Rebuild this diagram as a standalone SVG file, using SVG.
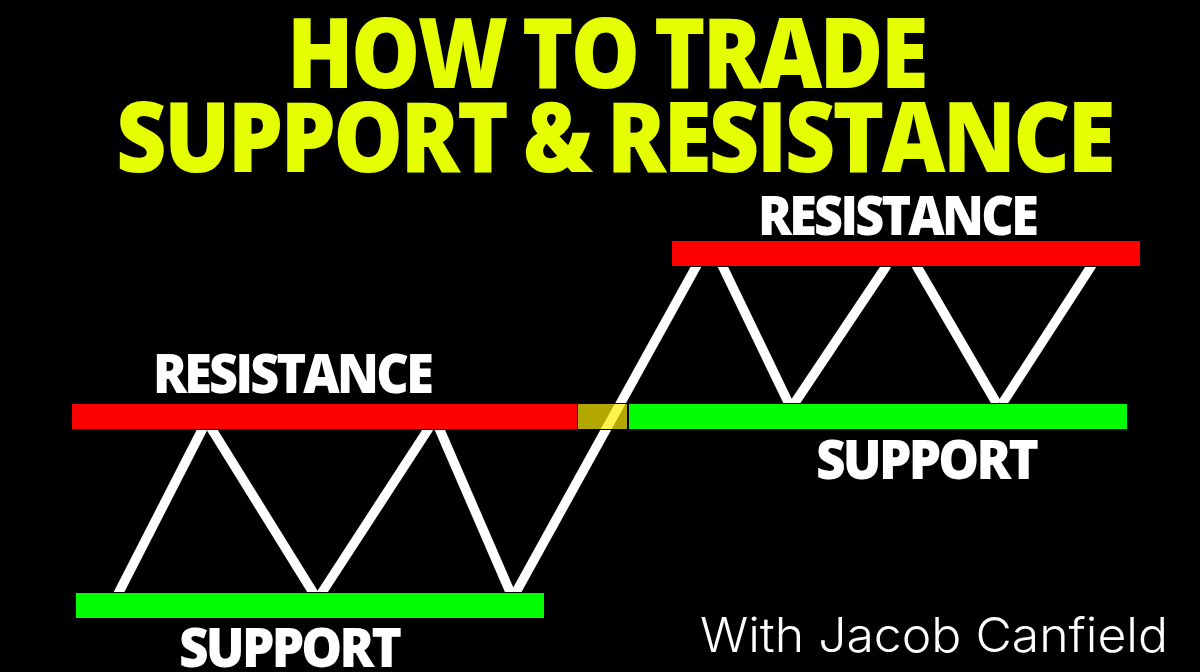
<svg xmlns="http://www.w3.org/2000/svg" width="1200" height="672" viewBox="0 0 1200 672">
<style>
.t{font-family:"Open Sans","Liberation Sans",sans-serif;font-weight:800;text-anchor:start;letter-spacing:-3px}
.y{fill:#e6ff00;font-size:98px;word-spacing:-4px}
.w{fill:#fff;font-size:55px}
.l{fill:none;stroke:#fff;stroke-width:9.500}
.r{fill:#ff0000;stroke:#000;stroke-width:1}.g{fill:#00ff00;stroke:#000;stroke-width:1}
</style>
<rect width="1200" height="672" fill="#000"/>
<g id="connectors">
<line class="l" x1="118" y1="594" x2="203" y2="428"/>
<line class="l" x1="211" y1="428" x2="314" y2="594"/>
<line class="l" x1="321" y1="594" x2="429" y2="428"/>
<line class="l" x1="439" y1="428" x2="511" y2="594"/>
<line class="l" x1="515" y1="594" x2="697" y2="265"/>
<line class="l" x1="722" y1="265" x2="789" y2="404"/>
<line class="l" x1="794" y1="404" x2="887" y2="265"/>
<line class="l" x1="916" y1="265" x2="997" y2="404"/>
<line class="l" x1="1002" y1="404" x2="1092" y2="265"/>
</g>
<g id="res-left"><rect class="r" x="71.500" y="403.500" width="506" height="26"/><text class="t w" x="153" y="393" textLength="278" lengthAdjust="spacingAndGlyphs">RESISTANCE</text></g>
<g id="sup-left"><rect class="g" x="75.500" y="592.500" width="469" height="26"/><text class="t w" x="179" y="667" textLength="220" lengthAdjust="spacingAndGlyphs">SUPPORT</text></g>
<g id="res-right"><rect class="r" x="671.500" y="240.500" width="469" height="26"/><text class="t w" x="758" y="235" textLength="278" lengthAdjust="spacingAndGlyphs">RESISTANCE</text></g>
<g id="sup-right"><rect class="g" x="628.500" y="403.500" width="499" height="26"/><text class="t w" x="816" y="479" textLength="220" lengthAdjust="spacingAndGlyphs">SUPPORT</text></g>
<g id="zone"><rect x="577.500" y="403.500" width="50" height="26" fill="#fff000" fill-opacity="0.7" stroke="#000" stroke-width="1"/></g>
<g id="title">
<text class="t y" x="287" y="88" textLength="639" lengthAdjust="spacingAndGlyphs">HOW TO TRADE</text>
<text class="t y" x="116" y="172" textLength="997" lengthAdjust="spacingAndGlyphs">SUPPORT &amp; RESISTANCE</text>
</g>
<text x="700" y="652" fill="#fff" font-family="Inter,Lato,sans-serif" font-size="48" font-weight="300" textLength="468" lengthAdjust="spacingAndGlyphs">With Jacob Canfield</text>
</svg>
